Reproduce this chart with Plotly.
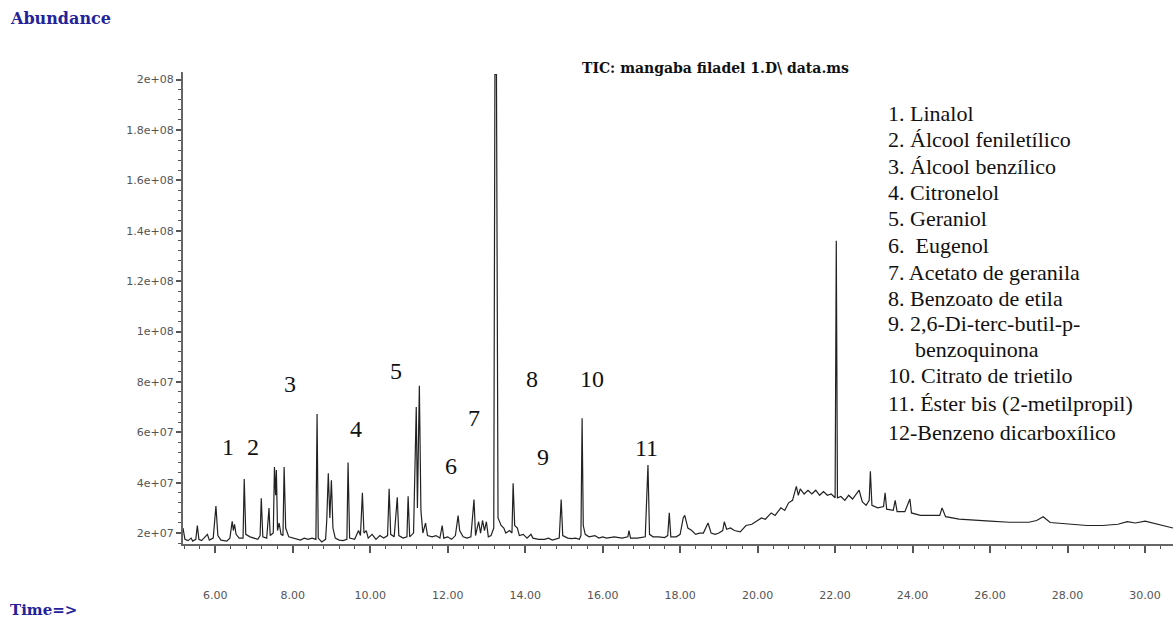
import plotly.graph_objects as go

# ---------------- data ----------------
time_min = [
    5.17, 5.22, 5.30, 5.38, 5.42, 5.50, 5.54, 5.58, 5.65, 5.75, 5.80, 5.85, 5.95,
    6.02, 6.07, 6.15, 6.30, 6.38, 6.44, 6.47, 6.50, 6.54, 6.62, 6.72, 6.75, 6.79,
    6.90, 7.00, 7.10, 7.16, 7.19, 7.23, 7.33, 7.39, 7.42, 7.50, 7.53, 7.56, 7.58,
    7.61, 7.65, 7.70, 7.75, 7.78, 7.82, 7.90, 8.00, 8.10, 8.20, 8.30, 8.40, 8.50,
    8.60, 8.63, 8.66, 8.75, 8.85, 8.88, 8.92, 8.96, 9.00, 9.04, 9.10, 9.20, 9.30,
    9.40, 9.43, 9.47, 9.60, 9.70, 9.75, 9.80, 9.84, 9.90, 9.95, 10.05, 10.15,
    10.25, 10.35, 10.45, 10.49, 10.53, 10.62, 10.70, 10.74, 10.85, 10.95, 10.98,
    11.02, 11.12, 11.19, 11.22, 11.27, 11.31, 11.36, 11.43, 11.48, 11.60, 11.70,
    11.80, 11.86, 11.90, 12.00, 12.10, 12.20, 12.27, 12.31, 12.40, 12.50, 12.60,
    12.68, 12.72, 12.80, 12.85, 12.90, 12.95, 13.00, 13.05, 13.12, 13.19, 13.22,
    13.26, 13.30, 13.38, 13.45, 13.50, 13.60, 13.66, 13.69, 13.73, 13.80, 13.85,
    13.95, 14.05, 14.15, 14.20, 14.35, 14.50, 14.60, 14.70, 14.88, 14.93, 14.97,
    15.10, 15.20, 15.30, 15.40, 15.44, 15.47, 15.50, 15.55, 15.65, 15.80, 15.90,
    16.00, 16.10, 16.30, 16.50, 16.65, 16.68, 16.72, 16.90, 17.10, 17.17, 17.21,
    17.30, 17.45, 17.60, 17.68, 17.72, 17.76, 17.90, 18.00, 18.08, 18.12, 18.20,
    18.30, 18.40, 18.50, 18.60, 18.72, 18.80, 18.90, 19.00, 19.10, 19.14, 19.20,
    19.30, 19.40, 19.55, 19.70, 19.85, 20.00, 20.10, 20.20, 20.35, 20.45, 20.60,
    20.70, 20.80, 20.90, 21.00, 21.05, 21.10, 21.20, 21.30, 21.40, 21.50, 21.60,
    21.70, 21.80, 21.90, 22.00, 22.03, 22.06, 22.15, 22.25, 22.35, 22.45, 22.55,
    22.62, 22.70, 22.80, 22.88, 22.91, 22.95, 23.10, 23.25, 23.29, 23.33, 23.50,
    23.55, 23.60, 23.80, 23.93, 23.97, 24.20, 24.50, 24.70, 24.76, 24.85, 25.20,
    25.60, 26.00, 26.50, 27.00, 27.20, 27.37, 27.55, 28.00, 28.50, 28.90, 29.30,
    29.54, 29.75, 30.00, 30.30, 30.72,
]
abundance = [
    2.2e7, 1.75e7, 1.7e7, 1.8e7, 1.68e7, 1.75e7, 2.3e7, 1.75e7, 1.7e7, 1.85e7, 1.95e7, 1.72e7, 1.8e7,
    3.07e7, 1.9e7, 1.72e7, 1.68e7, 1.8e7, 2.47e7, 2.1e7, 2.35e7, 1.95e7, 1.8e7, 1.8e7, 4.15e7, 1.95e7,
    1.85e7, 1.8e7, 1.75e7, 1.9e7, 3.38e7, 1.85e7, 1.8e7, 2.99e7, 1.9e7, 2.0e7, 4.62e7, 3.5e7, 4.5e7,
    2.1e7, 2.4e7, 1.95e7, 1.9e7, 4.62e7, 2.2e7, 1.85e7, 1.8e7, 1.75e7, 1.72e7, 1.8e7, 1.75e7, 1.8e7,
    1.75e7, 6.73e7, 1.8e7, 1.65e7, 1.75e7, 2.5e7, 4.37e7, 2.6e7, 4.1e7, 2.2e7, 1.8e7, 1.72e7, 1.7e7,
    1.75e7, 4.8e7, 1.8e7, 1.75e7, 2.1e7, 1.9e7, 3.6e7, 2.0e7, 2.1e7, 1.8e7, 1.95e7, 1.75e7,
    1.9e7, 1.8e7, 1.9e7, 3.76e7, 1.95e7, 1.85e7, 3.42e7, 1.9e7, 1.8e7, 1.85e7, 3.46e7,
    1.85e7, 2.0e7, 7.0e7, 3.0e7, 7.85e7, 2.9e7, 2.0e7, 2.4e7, 1.9e7, 1.85e7, 1.9e7,
    1.8e7, 2.3e7, 1.8e7, 1.85e7, 1.75e7, 1.9e7, 2.69e7, 2.1e7, 1.85e7, 1.8e7, 1.85e7,
    3.33e7, 1.9e7, 2.45e7, 2.0e7, 2.5e7, 2.1e7, 2.45e7, 1.85e7, 1.9e7, 2.2e7, 2.02e8,
    2.02e8, 2.6e7, 2.3e7, 2.2e7, 2.0e7, 2.1e7, 2.0e7, 3.98e7, 2.3e7, 2.2e7, 1.9e7,
    1.95e7, 1.8e7, 1.95e7, 1.8e7, 1.75e7, 1.75e7, 1.8e7, 1.72e7, 1.8e7, 3.33e7, 1.9e7,
    1.8e7, 1.78e7, 1.8e7, 1.75e7, 1.9e7, 6.56e7, 2.3e7, 1.95e7, 1.85e7, 1.9e7, 1.8e7,
    1.85e7, 1.8e7, 1.85e7, 1.8e7, 1.85e7, 2.1e7, 1.8e7, 1.8e7, 1.85e7, 4.7e7, 1.95e7,
    1.85e7, 1.85e7, 1.82e7, 1.9e7, 2.8e7, 1.85e7, 1.85e7, 1.95e7, 2.6e7, 2.7e7, 2.2e7,
    2.1e7, 1.95e7, 2.0e7, 2.0e7, 2.4e7, 2.0e7, 1.95e7, 2.0e7, 2.1e7, 2.45e7, 2.15e7,
    2.2e7, 2.1e7, 2.05e7, 2.3e7, 2.35e7, 2.5e7, 2.6e7, 2.55e7, 2.8e7, 2.7e7, 3.0e7,
    2.9e7, 3.2e7, 3.3e7, 3.85e7, 3.5e7, 3.75e7, 3.55e7, 3.7e7, 3.55e7, 3.7e7, 3.5e7,
    3.65e7, 3.5e7, 3.55e7, 3.4e7, 1.36e8, 3.4e7, 3.45e7, 3.3e7, 3.5e7, 3.35e7, 3.55e7,
    3.7e7, 3.25e7, 3.1e7, 3.3e7, 4.45e7, 3.1e7, 3.0e7, 3.05e7, 3.6e7, 2.95e7, 2.9e7,
    3.3e7, 2.85e7, 2.85e7, 3.35e7, 2.8e7, 2.7e7, 2.7e7, 2.7e7, 3.0e7, 2.65e7, 2.55e7,
    2.5e7, 2.47e7, 2.43e7, 2.43e7, 2.5e7, 2.65e7, 2.42e7, 2.35e7, 2.3e7, 2.3e7, 2.35e7,
    2.45e7, 2.4e7, 2.47e7, 2.35e7, 2.2e7,
]

x_tick_vals = [6, 8, 10, 12, 14, 16, 18, 20, 22, 24, 26, 28, 30]
x_tick_text = ["6.00", "8.00", "10.00", "12.00", "14.00", "16.00", "18.00",
               "20.00", "22.00", "24.00", "26.00", "28.00", "30.00"]
y_tick_vals = [2e7, 4e7, 6e7, 8e7, 1e8, 1.2e8, 1.4e8, 1.6e8, 1.8e8, 2e8]
y_tick_text = ["2e+07", "4e+07", "6e+07", "8e+07", "1e+08", "1.2e+08",
               "1.4e+08", "1.6e+08", "1.8e+08", "2e+08"]

peak_numbers = ["1", "2", "3", "4", "5", "6", "7", "8", "9", "10", "11"]
peak_label_time = [6.34, 6.98, 7.94, 9.64, 10.67, 12.09, 12.68, 14.18, 14.46, 15.73, 17.12]
peak_label_abund = [5.40e7, 5.40e7, 7.92e7, 6.15e7, 8.44e7, 4.68e7, 6.58e7, 8.12e7, 5.0e7, 8.12e7, 5.36e7]

compound_lines = [
    "1. Linalol",
    "2. Álcool feniletílico",
    "3. Álcool benzílico",
    "4. Citronelol",
    "5. Geraniol",
    "6.\u00a0 Eugenol",
    "7. Acetato de geranila",
    "8. Benzoato de etila",
    "9. 2,6-Di-terc-butil-p-",
    "benzoquinona",
    "10. Citrato de trietilo",
    "11. Éster bis (2-metilpropil)",
    "12-Benzeno dicarboxílico",
]

# ---------------- layout geometry ----------------
W, H = 1173, 619
L, R, T, B = 183, 0, 72, 75
PW, PH = W - L - R, H - T - B


def px(x):
    return (x - L) / PW


def py(y):
    return (H - B - y) / PH


legend_y_px = [113, 140, 166, 192, 219, 245, 272, 298, 323, 349, 375, 403, 432]
legend_x_px = [886] * 9 + [913] + [886] * 3

fig = go.Figure()
fig.add_trace(go.Scatter(
    x=time_min, y=abundance, mode="lines",
    line=dict(color="#222222", width=1.2),
    hoverinfo="x+y", showlegend=False,
))

annotations = []
for lab, t, a in zip(peak_numbers, peak_label_time, peak_label_abund):
    annotations.append(dict(
        x=t, y=a, xref="x", yref="y", text=lab, showarrow=False,
        font=dict(family="Liberation Serif", size=24, color="#111111"),
        xanchor="center", yanchor="middle",
    ))

for txt, xx, yy in zip(compound_lines, legend_x_px, legend_y_px):
    annotations.append(dict(
        x=px(xx), y=py(yy), xref="paper", yref="paper", text=txt, showarrow=False,
        font=dict(family="Liberation Serif", size=22, color="#111111"),
        xanchor="left", yanchor="middle",
    ))

annotations.append(dict(
    x=px(715), y=py(68), xref="paper", yref="paper",
    text="TIC: mangaba filadel 1.D\\ data.ms", showarrow=False,
    font=dict(family="DejaVu Serif", size=14, color="#111111", weight="bold"),
    xanchor="center", yanchor="middle",
))
annotations.append(dict(
    x=px(8), y=py(18), xref="paper", yref="paper", text="Abundance",
    showarrow=False,
    font=dict(family="DejaVu Serif", size=16, color="#22229a", weight="bold"),
    xanchor="left", yanchor="middle",
))
annotations.append(dict(
    x=px(8), y=py(610), xref="paper", yref="paper", text="Time=>",
    showarrow=False,
    font=dict(family="DejaVu Serif", size=15, color="#22229a", weight="bold"),
    xanchor="left", yanchor="middle",
))

fig.update_layout(
    width=W, height=H,
    margin=dict(l=L, r=R, t=T, b=B, pad=0),
    paper_bgcolor="white", plot_bgcolor="white",
    showlegend=False,
    annotations=annotations,
    xaxis=dict(
        range=[5.17, 30.72], showgrid=False, zeroline=False,
        showline=True, linecolor="#666666", linewidth=2,
        ticks="outside", ticklen=7, tickwidth=1.5, tickcolor="#555555",
        tickvals=x_tick_vals, ticktext=x_tick_text,
        tickfont=dict(family="DejaVu Sans", size=11, color="#555555"),
        ticklabelstandoff=33,
        minor=dict(ticks="outside", ticklen=3, tick0=6, dtick=0.4,
                   tickcolor="#555555", tickwidth=1, showgrid=False),
    ),
    yaxis=dict(
        range=[1.566e7, 2.03e8], showgrid=False, zeroline=False,
        showline=True, linecolor="#666666", linewidth=2,
        ticks="outside", ticklen=5, tickwidth=1.5, tickcolor="#555555",
        tickvals=y_tick_vals, ticktext=y_tick_text,
        tickfont=dict(family="DejaVu Sans", size=11, color="#555555"),
        minor=dict(ticks="outside", ticklen=3, tick0=2e7, dtick=4e6,
                   tickcolor="#555555", tickwidth=1, showgrid=False),
    ),
)

fig.write_html(
    "out.html",
    config={"displayModeBar": False},
    post_script="document.body.style.margin='0';document.body.style.overflow='hidden';",
)
